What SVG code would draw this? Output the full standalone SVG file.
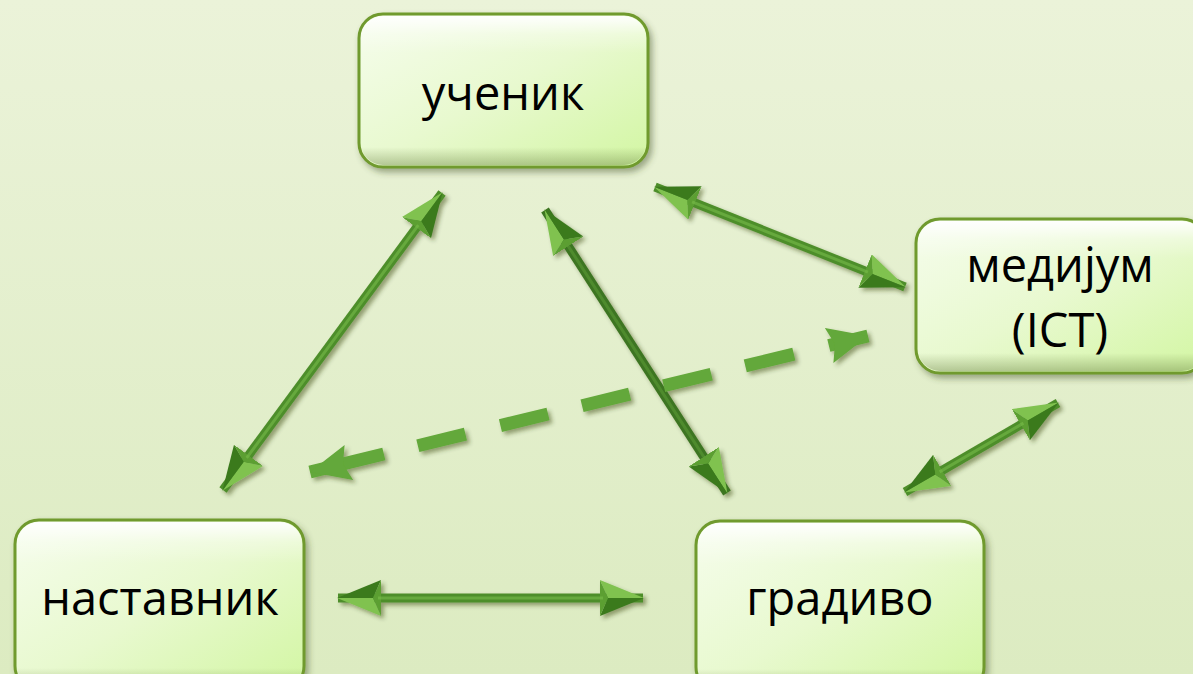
<svg xmlns="http://www.w3.org/2000/svg" width="1193" height="674" viewBox="0 0 1193 674">
<defs>
<linearGradient id="bg" x1="0" y1="0" x2="0" y2="1">
<stop offset="0" stop-color="#ebf3d9"/>
<stop offset="1" stop-color="#dcebc1"/>
</linearGradient>
<linearGradient id="box" x1="0" y1="0" x2="1" y2="1">
<stop offset="0" stop-color="#f6fded"/>
<stop offset="0.5" stop-color="#e8f9cf"/>
<stop offset="1" stop-color="#d2f6a2"/>
</linearGradient>
<linearGradient id="gloss" x1="0" y1="0" x2="0" y2="1">
<stop offset="0" stop-color="#ffffff" stop-opacity="0.95"/>
<stop offset="0.12" stop-color="#ffffff" stop-opacity="0.3"/>
<stop offset="0.25" stop-color="#ffffff" stop-opacity="0"/>
<stop offset="0.88" stop-color="#556b2f" stop-opacity="0"/>
<stop offset="1" stop-color="#556b2f" stop-opacity="0.35"/>
</linearGradient>
<filter id="sh" x="-20%" y="-20%" width="140%" height="140%">
<feDropShadow dx="3" dy="4" stdDeviation="3" flood-color="#3a4a20" flood-opacity="0.45"/>
</filter>
<filter id="ash" x="-20%" y="-20%" width="140%" height="140%">
<feDropShadow dx="3" dy="3" stdDeviation="2" flood-color="#2a3a10" flood-opacity="0.45"/>
</filter>
<marker id="ah" viewBox="0 0 44 36" refX="43" refY="18" markerWidth="44" markerHeight="36" markerUnits="userSpaceOnUse" orient="auto-start-reverse">
<path d="M0,0 L44,18 L8,18 Z" fill="#80c250"/>
<path d="M8,18 L44,18 L0,36 Z" fill="#3b7a1e"/>
<path d="M0,0 L8,18 L0,36 Z" fill="#5b9f33"/>
</marker>
<marker id="dh" viewBox="0 0 40 36" refX="40" refY="18" markerWidth="40" markerHeight="36" markerUnits="userSpaceOnUse" orient="auto-start-reverse">
<path d="M0,0 L40,18 L0,36 L6,18 Z" fill="#63a83a"/>
</marker>
</defs>
<style>
.box{fill:url(#box);stroke:#6f9a2e;stroke-width:3;filter:url(#sh)}
.gl{fill:url(#gloss);stroke:none}
.lbl{font-family:"Open Sans","Liberation Sans",sans-serif;font-size:47px;fill:#000;text-anchor:middle}
.shaft{fill:none;stroke:#4e8e2a;stroke-width:9;marker-start:url(#ah);marker-end:url(#ah)}
.dark{stroke:#3c7520}
.hl{fill:none;stroke:#7cc04c;stroke-width:3;stroke-opacity:0.55}
.dash{fill:none;stroke:#63a83a;stroke-width:13;stroke-dasharray:76 35 49 36 49 35 49 35 49 35 50 36 60 0;marker-start:url(#dh);marker-end:url(#dh)}
</style>
<rect width="1193" height="674" fill="url(#bg)"/>

<g id="connectors">
<g filter="url(#ash)">
<path class="shaft" d="M442,193 L223,490"/>
<path class="shaft dark" d="M545,210 L727,493"/>
<path class="shaft" d="M655,187 L905,287"/>
<path class="shaft" d="M905,492 L1058,403"/>
<path class="shaft" d="M338,598 L643,598"/>
<path class="dash" d="M310,472 L868,336"/>
</g>
<path class="hl" d="M418.3,225.2 L246.7,457.8"/>
<path class="hl" d="M566.6,243.6 L705.4,459.4" style="stroke:#5c9c36"/>
<path class="hl" d="M692.1,201.9 L867.9,272.1"/>
<path class="hl" d="M939.6,471.9 L1023.4,423.1"/>
<path class="hl" d="M378,598 L603,598"/>
</g>

<g id="node-uchenik">
<rect class="box" x="359" y="14" width="289" height="153" rx="24"/>
<rect class="gl" x="361" y="16" width="285" height="149" rx="22"/>
<text class="lbl" x="503" y="110">ученик</text>
</g>
<g id="node-medijum">
<rect class="box" x="916" y="219" width="290" height="154" rx="24"/>
<rect class="gl" x="918" y="221" width="286" height="150" rx="22"/>
<text class="lbl" x="1060" y="282">медијум</text>
<text class="lbl" x="1060" y="347">(ICT)</text>
</g>
<g id="node-nastavnik">
<rect class="box" x="15" y="520" width="289" height="170" rx="24"/>
<rect class="gl" x="17" y="522" width="285" height="166" rx="22"/>
<text class="lbl" x="160" y="615">наставник</text>
</g>
<g id="node-gradivo">
<rect class="box" x="696" y="521" width="288" height="170" rx="24"/>
<rect class="gl" x="698" y="523" width="284" height="166" rx="22"/>
<text class="lbl" x="840" y="615">градиво</text>
</g>
</svg>
